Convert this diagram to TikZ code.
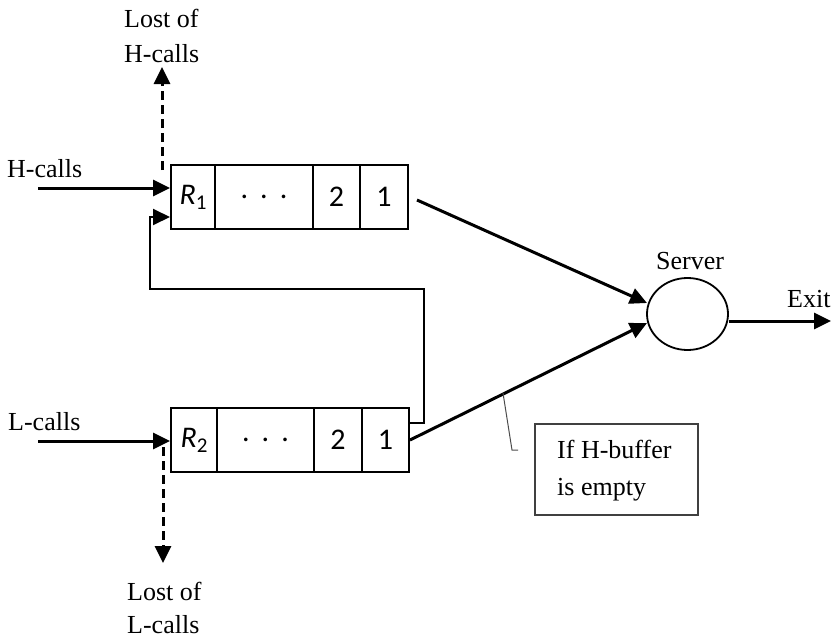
\documentclass[tikz,border=0pt]{standalone}
\usepackage{fontspec}
\setmainfont{Liberation Serif}
\newfontfamily\cellfont{Carlito}
\usetikzlibrary{arrows.meta,shapes.geometric}
\newcommand{\cellsub}[1]{\raisebox{-0.35ex}{\fontsize{21}{21}\selectfont\upshape #1}}
\begin{document}
\begin{tikzpicture}[x=1pt,y=-1pt,
  lbl/.style={font=\fontsize{26}{30}\selectfont, inner sep=0pt, anchor=base west},
  cell/.style={draw, line width=2pt, minimum height=64pt, inner sep=0pt,
               font=\cellfont\fontsize{30}{34}\selectfont},
  flow/.style={line width=3pt, -{Triangle[length=17pt,width=16pt]}},
  thinflow/.style={flow, line width=2pt},
  lost/.style={flow, dash pattern=on 9pt off 5pt},
  server/.style={draw, ellipse, line width=1.8pt, minimum width=81pt, minimum height=72pt, inner sep=0pt},
  notebox/.style={draw, line width=1.2pt, draw=black!75, minimum width=163pt, minimum height=91pt, inner sep=0pt},
  pointer/.style={draw=black!70, line width=1pt},
]
\useasboundingbox (0,0) rectangle (831,640);

% H-buffer cells
\node[cell, minimum width=44pt] (b1r) at (193,197) {\textit{R}\cellsub{1}};
\node[cell, minimum width=98pt] (b1d) at (264,197) {.\hspace{12pt}.\hspace{12pt}.};
\node[cell, minimum width=47pt] (b1t) at (336.5,197) {2};
\node[cell, minimum width=48pt] (b1o) at (384,197) {1};

% L-buffer cells
\node[cell, minimum width=46pt] (b2r) at (194,440) {\textit{R}\cellsub{2}};
\node[cell, minimum width=97pt] (b2d) at (265.5,440) {.\hspace{12pt}.\hspace{12pt}.};
\node[cell, minimum width=48pt] (b2t) at (338,440) {2};
\node[cell, minimum width=47pt] (b2o) at (385.5,440) {1};

% server
\node[server] (srv) at (687.5,314) {};
\node[lbl] (srvlbl) at (656,269) {Server};

% text labels
\node[lbl] (hcalls) at (7,177) {H-calls};
\node[lbl] (lcalls) at (8,430) {L-calls};
\node[lbl] (lostHa) at (124,27) {Lost of};
\node[lbl] (lostHb) at (124,62) {H-calls};
\node[lbl] (lostLa) at (127,600) {Lost of};
\node[lbl] (lostLb) at (127,633) {L-calls};
\node[lbl] (exit) at (787,307) {Exit};

% note box
\node[notebox] (note) at (616.5,469.5) {};
\node[lbl] (noteA) at (557,458) {If H-buffer};
\node[lbl] (noteB) at (557,495) {is empty};

% anchor points for connectors
\coordinate (hin) at (38,188);
\coordinate (lin) at (38,441);
\coordinate (hlostS) at (162,170);
\coordinate (hlostE) at (162,67);
\coordinate (llostS) at (163,447);
\coordinate (llostE) at (163,563);
\coordinate (h2s) at (417,200);
\coordinate (l2s) at (410,440);
\coordinate (srvA) at (647,303);
\coordinate (srvB) at (647,323);
\coordinate (exitE) at (831,321);
\coordinate (fb1) at (424,423);
\coordinate (fb2) at (424,289);
\coordinate (fb3) at (150,289);
\coordinate (fb4) at (150,217);
\coordinate (ptrA) at (503,393);
\coordinate (ptrB) at (512,450);
\coordinate (ptrC) at (518,450);

% arrivals
\draw[flow] (hin) -- (hin -| b1r.west);
\draw[flow] (lin) -- (lin -| b2r.west);

% losses
\draw[lost] (hlostS) -- (hlostE);
\draw[lost] (llostS) -- (llostE);

% feedback from the L-buffer into the H-buffer
\draw[thinflow] (b2o.east |- fb1) -- (fb1) -- (fb2) -- (fb3) -- (fb4) -- (fb4 -| b1r.west);

% buffers to server
\draw[flow] (h2s) -- (srvA);
\draw[flow] (l2s) -- (srvB);

% departure
\draw[flow] (srv.east |- exitE) -- (exitE);

% pointer to the note
\draw[pointer] (ptrA) -- (ptrB) -- (ptrC);
\end{tikzpicture}
\end{document}
